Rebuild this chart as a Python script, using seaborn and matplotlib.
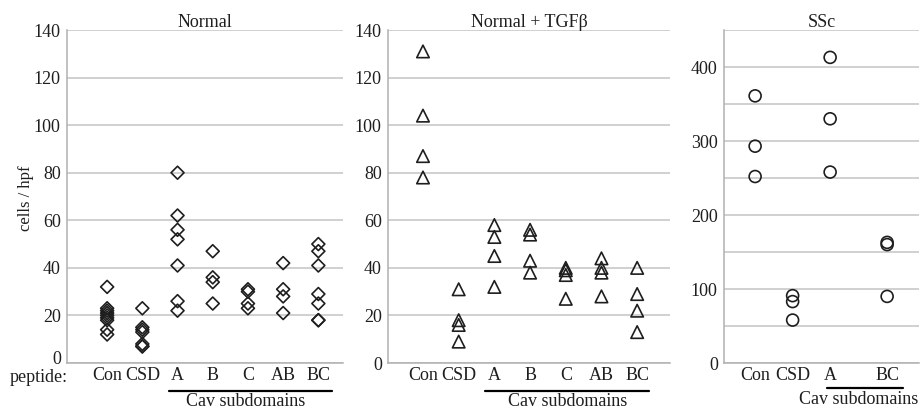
import pandas as pd
import matplotlib.pyplot as plt
import matplotlib.transforms as mtransforms
import seaborn as sns

# DATA, cells / hpf per peptide
normal_order = ["Con", "CSD", "A", "B", "C", "AB", "BC"]
normal_con = [32, 23, 22, 21, 20, 19, 18, 14, 12]
normal_csd = [23, 15, 14, 13, 8, 7, 7]
normal_a = [80, 62, 56, 52, 41, 26, 22]
normal_b = [47, 36, 34, 25]
normal_c = [31, 30, 25, 23]
normal_ab = [42, 31, 28, 21]
normal_bc = [50, 47, 41, 29, 25, 18, 18]

tgf_order = ["Con", "CSD", "A", "B", "C", "AB", "BC"]
tgf_con = [131, 104, 87, 78]
tgf_csd = [31, 18, 16, 9]
tgf_a = [58, 53, 45, 32]
tgf_b = [56, 54, 43, 38]
tgf_c = [40, 39, 37, 27]
tgf_ab = [44, 40, 38, 28]
tgf_bc = [40, 29, 22, 13]

ssc_order = ["Con", "CSD", "A", "BC"]
ssc_con = [361, 293, 252]
ssc_csd = [91, 83, 58]
ssc_a = [413, 330, 258]
ssc_bc = [163, 160, 90]


def long_table(order, groups):
    rows = []
    for name, vals in zip(order, groups):
        for v in vals:
            rows.append({"peptide": name, "cells": v})
    return pd.DataFrame(rows)


df_normal = long_table(normal_order, [normal_con, normal_csd, normal_a, normal_b,
                                      normal_c, normal_ab, normal_bc])
df_tgf = long_table(tgf_order, [tgf_con, tgf_csd, tgf_a, tgf_b, tgf_c, tgf_ab, tgf_bc])
df_ssc = long_table(ssc_order, [ssc_con, ssc_csd, ssc_a, ssc_bc])

# STYLE
sns.set_style("white")
plt.rcParams["font.family"] = ["Liberation Serif", "DejaVu Serif"]
TXT = "#1e1e1e"
GRID = "#c4c4c4"

fig = plt.figure(figsize=(9.21, 4.12), dpi=100)
W, H = 921, 412


def add_axes(left, right, top=30, bottom=363):
    return fig.add_axes([left / W, 1 - bottom / H, (right - left) / W, (bottom - top) / H])


ax1 = add_axes(67, 343)
ax2 = add_axes(388, 670)
ax3 = add_axes(724, 919)


def draw_panel(ax, df, order, xpos, marker, size, ylim, major, minor, xlim, title, cav):
    d = df.assign(x=df["peptide"].map(dict(zip(order, xpos))))
    sns.stripplot(data=d, x="x", y="cells", native_scale=True, jitter=False,
                  orient="x", marker=marker, size=size, color="black",
                  linewidth=1.2, edgecolor=TXT, ax=ax, zorder=3)
    for coll in ax.collections:
        coll.set_facecolor("none")
        coll.set_edgecolor(TXT)
        coll.set_linewidth(1.2)

    ax.set_xlim(*xlim)
    ax.set_ylim(*ylim)
    ax.set_xticks(xpos)
    ax.set_xticklabels(order)
    ax.set_yticks(major)
    ax.set_yticks(minor, minor=True)
    ax.yaxis.grid(True, which="both", color=GRID, lw=1.1)
    ax.xaxis.grid(False)
    ax.set_axisbelow(True)
    ax.set_xlabel("")
    ax.set_ylabel("")
    ax.tick_params(axis="both", which="both", length=0, labelsize=13, labelcolor=TXT)
    ax.tick_params(axis="y", which="major", length=2.5, width=1.1, color="#b0b0b0", pad=2)
    ax.tick_params(axis="x", pad=3)
    for side in ["top", "right"]:
        ax.spines[side].set_visible(False)
    for side in ["left", "bottom"]:
        ax.spines[side].set_color("#b0b0b0")
        ax.spines[side].set_linewidth(1.1)

    ax.text(0.5, 1.008, title, transform=ax.transAxes, ha="center", va="baseline",
            fontsize=13, color=TXT)

    # Cav subdomains bracket
    x0, x1, xt, yl, yt = cav
    trans = mtransforms.blended_transform_factory(ax.transData, ax.transAxes)
    ax.plot([x0, x1], [yl, yl], transform=trans, color="black", lw=1.6, clip_on=False)
    ax.text(xt, yt, "Cav subdomains", transform=trans, ha="center",
            va="center", fontsize=13, color=TXT)


draw_panel(ax1, df_normal, normal_order, [0, 1, 2, 3, 4, 5, 6], "D", 6.6,
           (0, 140), range(0, 141, 20), [], (-1.14, 6.70), "Normal",
           (1.76, 6.39, 3.92, -0.084, -0.117))
draw_panel(ax2, df_tgf, tgf_order, [0, 1, 2, 3, 4, 5, 6], "^", 9.0,
           (0, 140), range(0, 141, 20), [], (-0.98, 6.92), "Normal + TGF\u03b2",
           (1.74, 6.34, 4.04, -0.084, -0.117))
draw_panel(ax3, df_ssc, ssc_order, [0, 1, 2, 3.52], "o", 8.6,
           (0, 450), range(0, 401, 100), range(50, 451, 100), (-0.83, 4.37), "SSc",
           (1.92, 3.95, 2.76, -0.075, -0.111))

# the "0" on the first panel sits a little higher to clear "peptide:"
zero_label = ax1.get_yticklabels()[0]
zero_label.set_transform(zero_label.get_transform()
                         + mtransforms.ScaledTranslation(0, 5 / 100, fig.dpi_scale_trans))

fig.text(26 / W, 1 - 198 / H, "cells / hpf", rotation=90, ha="center", va="center",
         fontsize=12, color=TXT)
fig.text(10 / W, 1 - 378 / H, "peptide:", ha="left", va="center", fontsize=13, color=TXT)

fig.savefig("out.png", dpi=100)
